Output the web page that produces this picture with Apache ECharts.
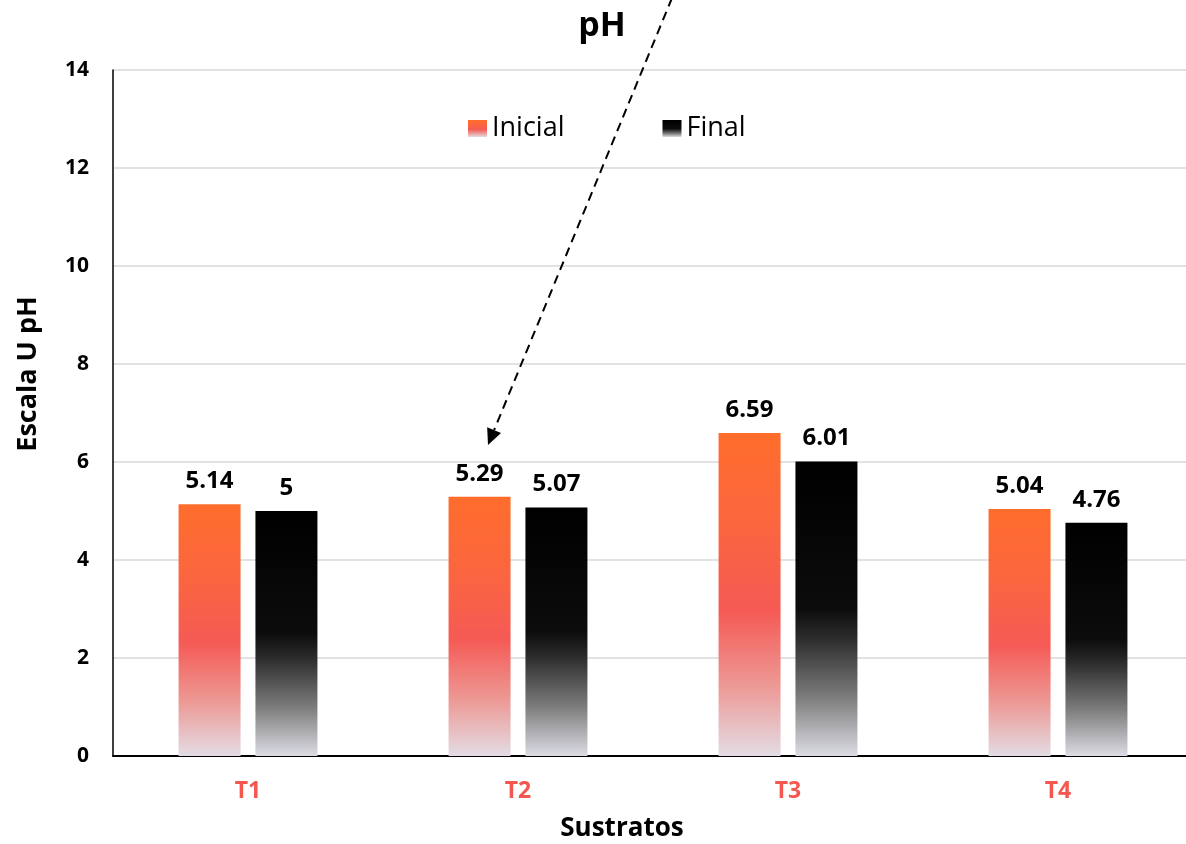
<!DOCTYPE html>
<html>
<head>
<meta charset="utf-8">
<title>pH</title>
<script src="https://cdn.jsdelivr.net/npm/echarts@6/dist/echarts.min.js"></script>
<style>
  html, body { margin: 0; padding: 0; background: #ffffff; }
  #chart { width: 1186px; height: 844px; }
</style>
</head>
<body>
<div id="chart"></div>
<script>
// Substrates and pH readings at the start and end of the trial
const categories = ['T1', 'T2', 'T3', 'T4'];
const inicial = [5.14, 5.29, 6.59, 5.04];
const final = [5.00, 5.07, 6.01, 4.76];
const yTicks = { min: 0, max: 14, interval: 2 };

const FONT = '"Open Sans", "Noto Sans", sans-serif';

const orangeFill = new echarts.graphic.LinearGradient(0, 0, 0, 1, [
  { offset: 0, color: '#ff6d2c' },
  { offset: 0.3, color: '#fb6540' },
  { offset: 0.55, color: '#f55a55' },
  { offset: 0.78, color: '#ed9894' },
  { offset: 1, color: '#e3dce4' }
]);
const blackFill = new echarts.graphic.LinearGradient(0, 0, 0, 1, [
  { offset: 0, color: '#000000' },
  { offset: 0.5, color: '#0c0c0c' },
  { offset: 0.6, color: '#2c2c2c' },
  { offset: 0.8, color: '#7c7c7c' },
  { offset: 1, color: '#dcdce4' }
]);

const valueLabel = {
  show: true,
  position: 'top',
  distance: 11,
  color: '#000000',
  fontFamily: FONT,
  fontWeight: 'bold',
  fontSize: 24
};

// Dashed pointer from above the title down to the T2 label
const arrowFrom = [672, -2];
const arrowTip = [488, 445];
const headLen = 16, headHalf = 7.5;
const dx = arrowTip[0] - arrowFrom[0], dy = arrowTip[1] - arrowFrom[1];
const len = Math.hypot(dx, dy);
const ux = dx / len, uy = dy / len;
const base = [arrowTip[0] - ux * headLen, arrowTip[1] - uy * headLen];
const px = -uy * headHalf, py = ux * headHalf;

const chart = echarts.init(document.getElementById('chart'), null, { renderer: 'canvas' });

chart.setOption({
  backgroundColor: '#ffffff',
  animation: false,
  grid: {
    left: 113, width: 1080, top: 70, bottom: 88,
    containLabel: false,
    outerBoundsMode: 'none'
  },
  legend: {
    left: 463,
    top: 110,
    icon: 'rect',
    itemWidth: 19,
    itemHeight: 17,
    itemGap: 98,
    textStyle: { fontFamily: FONT, fontSize: 27, color: '#000000' },
    data: ['Inicial', 'Final']
  },
  xAxis: {
    type: 'category',
    data: categories,
    axisLine: { lineStyle: { color: '#000000', width: 2 } },
    axisTick: { show: false },
    axisLabel: {
      margin: 24,
      color: '#f5574f',
      fontFamily: FONT,
      fontWeight: 'bold',
      fontSize: 23
    },
    splitLine: { show: false }
  },
  yAxis: {
    type: 'value',
    min: yTicks.min,
    max: yTicks.max,
    interval: yTicks.interval,
    axisLine: { show: true, lineStyle: { color: '#000000', width: 1.5 } },
    axisTick: { show: false },
    axisLabel: {
      margin: 24,
      color: '#000000',
      fontFamily: FONT,
      fontWeight: 'bold',
      fontSize: 21
    },
    splitLine: { show: true, lineStyle: { color: '#d9d9d9', width: 1.5 } }
  },
  series: [
    {
      name: 'Inicial',
      type: 'bar',
      data: inicial,
      barWidth: 62,
      barGap: '24%',
      itemStyle: { color: orangeFill },
      label: valueLabel
    },
    {
      name: 'Final',
      type: 'bar',
      data: final,
      barWidth: 62,
      barGap: '24%',
      itemStyle: { color: blackFill },
      label: valueLabel
    }
  ],
  graphic: [
    {
      type: 'text',
      style: {
        text: 'pH',
        x: 602,
        y: 26,
        align: 'center',
        verticalAlign: 'middle',
        fill: '#000000',
        font: 'bold 34px ' + FONT
      }
    },
    {
      type: 'text',
      x: 28,
      y: 374,
      rotation: Math.PI / 2,
      style: {
        text: 'Escala U pH',
        x: 0,
        y: 0,
        align: 'center',
        verticalAlign: 'middle',
        fill: '#000000',
        font: 'bold 27px ' + FONT
      }
    },
    {
      type: 'text',
      style: {
        text: 'Sustratos',
        x: 622,
        y: 829,
        align: 'center',
        verticalAlign: 'middle',
        fill: '#000000',
        font: 'bold 26px ' + FONT
      }
    },
    {
      type: 'line',
      shape: { x1: arrowFrom[0], y1: arrowFrom[1], x2: base[0], y2: base[1] },
      style: { stroke: '#000000', lineWidth: 2, lineDash: [9, 6] },
      z: 100
    },
    {
      type: 'polygon',
      shape: {
        points: [
          arrowTip,
          [base[0] + px, base[1] + py],
          [base[0] - px, base[1] - py]
        ]
      },
      style: { fill: '#000000' },
      z: 100
    }
  ]
});
</script>
</body>
</html>
